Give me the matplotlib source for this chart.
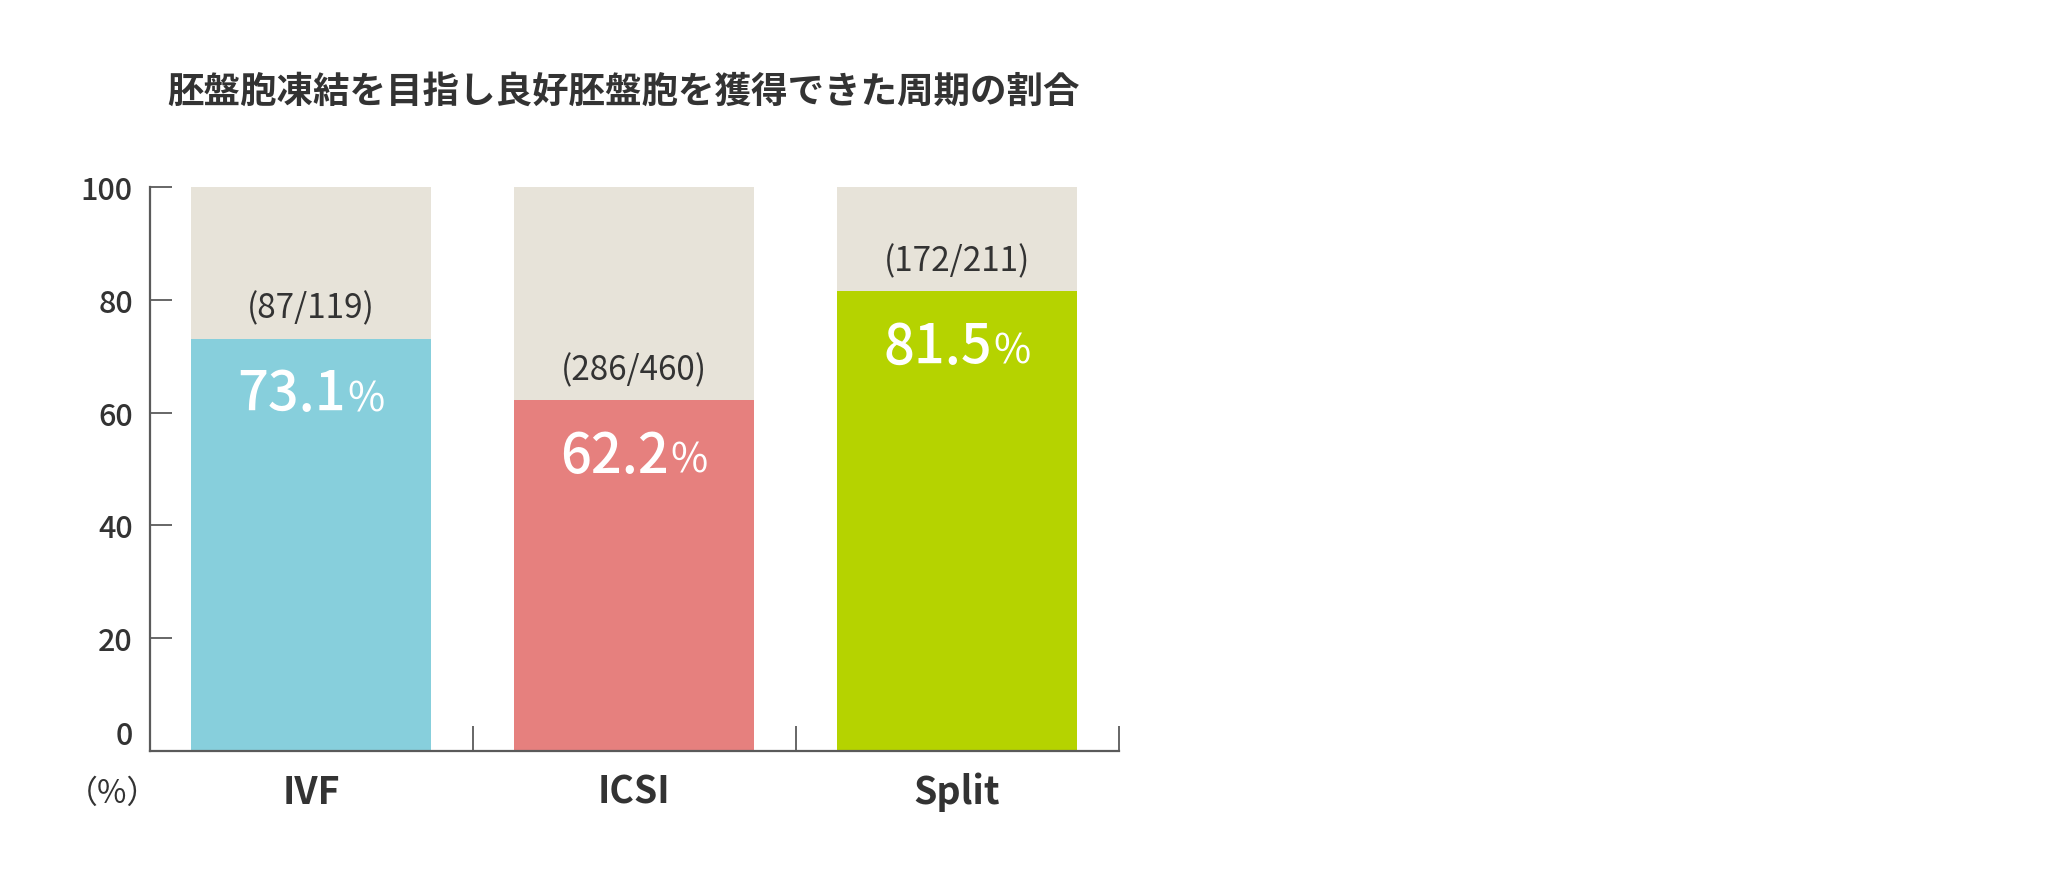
import matplotlib
matplotlib.use('Agg')
import matplotlib.pyplot as plt
from matplotlib.offsetbox import TextArea, HPacker, AnnotationBbox
from matplotlib.ticker import FixedLocator

plt.rcParams['font.family'] = ['Noto Sans CJK JP', 'DejaVu Sans']

title = '胚盤胞凍結を目指し良好胚盤胞を獲得できた周期の割合'
categories = ['IVF', 'ICSI', 'Split']
rates = [73.1, 62.2, 81.5]
counts = ['(87/119)', '(286/460)', '(172/211)']
yticks = [0, 20, 40, 60, 80, 100]

bar_colors = ['#87cfdc', '#e6807e', '#b5d300']
back_color = '#e7e3d9'
axis_color = '#5a5a5a'
text_color = '#333333'

fig = plt.figure(figsize=(20.65, 8.79), dpi=100)
ax = fig.add_axes([0.0724, 0.1445, 0.4693, 0.6417])

x = list(range(len(categories)))
ax.bar(x, [100] * len(x), width=0.745, color=back_color, zorder=1)
ax.bar(x, rates, width=0.745, color=bar_colors, zorder=2)

ax.set_xlim(-0.5, 2.5)
ax.set_ylim(0, 100)

for s in ['top', 'right']:
    ax.spines[s].set_visible(False)
for s in ['left', 'bottom']:
    ax.spines[s].set_color(axis_color)
    ax.spines[s].set_linewidth(1.6)

ax.set_yticks(yticks)
ax.set_yticklabels([str(v) for v in yticks], fontsize=22, fontweight='medium', color=text_color)
ax.tick_params(axis='y', direction='in', length=16, width=1.3, color=axis_color, pad=12)
# the 0 label sits just above the baseline
ax.get_yticklabels()[0].set_verticalalignment('bottom')

ax.set_xticks(x)
ax.set_xticklabels(categories, fontsize=27, fontweight='bold', color=text_color)
ax.tick_params(axis='x', which='major', length=0, pad=15)
ax.xaxis.set_minor_locator(FixedLocator([0.5, 1.5, 2.5]))
ax.tick_params(axis='x', which='minor', direction='in', length=18, width=1.3, color=axis_color)

for i, (r, c) in enumerate(zip(rates, counts)):
    ax.annotate(c, (i, r), xytext=(0, 22), textcoords='offset points',
                ha='center', va='center', fontsize=24, color=text_color, zorder=3)
    num = TextArea(f'{r:.1f}', textprops=dict(fontsize=39, fontweight='medium', color='white'))
    pct = TextArea('%', textprops=dict(fontsize=29, color='white'))
    box = HPacker(children=[num, pct], align='baseline', pad=0, sep=1)
    ab = AnnotationBbox(box, (i, r), xybox=(0, -40), xycoords='data',
                        boxcoords='offset points', frameon=False, zorder=3)
    ax.add_artist(ab)

fig.text(0.302, 0.8945, title, ha='center', va='center', fontsize=26.3,
         fontweight='bold', color=text_color)
fig.text(113 / 2065, 1 - 794 / 879, '（%）', ha='center', va='center',
         fontsize=23, color=text_color)

fig.savefig('out.png', dpi=100)
